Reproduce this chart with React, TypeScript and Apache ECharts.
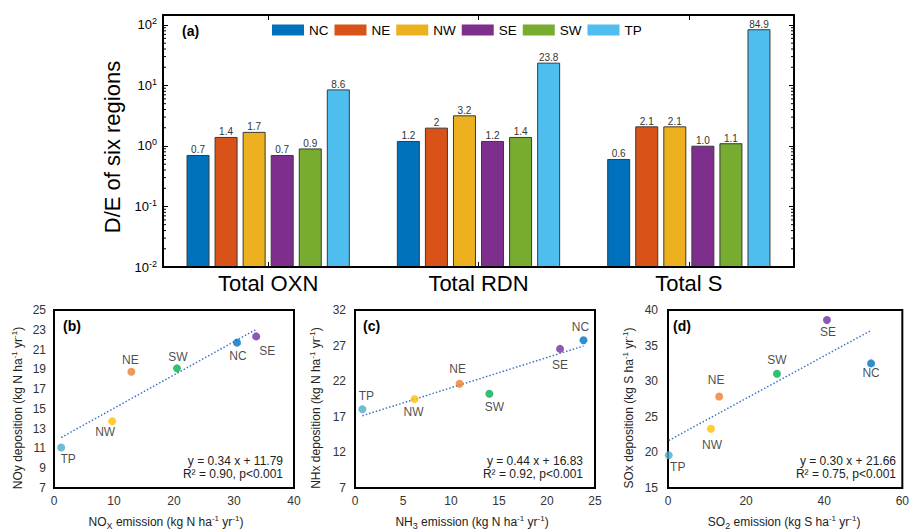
import React, { useEffect, useRef } from 'react';
import * as echarts from 'echarts';

const FONT = 'Liberation Sans, Arial, Helvetica, sans-serif';

// ---------- Panel (a): D/E ratios ----------
const regions = ['NC', 'NE', 'NW', 'SE', 'SW', 'TP'];
const barCategories = ['Total OXN', 'Total RDN', 'Total S'];

const ratioNC = [0.7, 1.2, 0.6];
const ratioNE = [1.4, 2, 2.1];
const ratioNW = [1.7, 3.2, 2.1];
const ratioSE = [0.7, 1.2, 1.0];
const ratioSW = [0.9, 1.4, 1.1];
const ratioTP = [8.6, 23.8, 84.9];

const ratioTextNC = ['0.7', '1.2', '0.6'];
const ratioTextNE = ['1.4', '2', '2.1'];
const ratioTextNW = ['1.7', '3.2', '2.1'];
const ratioTextSE = ['0.7', '1.2', '1.0'];
const ratioTextSW = ['0.9', '1.4', '1.1'];
const ratioTextTP = ['8.6', '23.8', '84.9'];

const logAxisMin = 0.01;
const logAxisMax = 146;

// ---------- Panels (b)-(d): order NC, NE, NW, SE, SW, TP ----------
const noxEmission = [30.5, 12.9, 9.7, 33.7, 20.5, 1.2];
const noyDeposition = [21.7, 18.75, 13.75, 22.33, 19.1, 11.1];

const nh3Emission = [23.8, 10.9, 6.2, 21.36, 14.0, 0.77];
const nhxDeposition = [27.76, 21.64, 19.48, 26.54, 20.23, 18.06];

const so2Emission = [52.0, 13.1, 11.0, 40.7, 27.9, 0.2];
const soxDeposition = [32.5, 27.85, 23.33, 38.6, 31.05, 19.6];

const equationB = ['y = 0.34 x + 11.79', 'R² = 0.90, p<0.001'];
const equationC = ['y = 0.44 x + 16.83', 'R² = 0.92, p<0.001'];
const equationD = ['y = 0.30 x + 21.66', 'R² = 0.75, p<0.001'];

// styles / layout (not data)
const barColors = ['#0072BD', '#D95319', '#EDB120', '#7E2F8E', '#77AC30', '#4DBEEE'];
const dotColors = ['#0070C0', '#ED7D31', '#FFC000', '#7030A0', '#00B050', '#4BACC6'];
const labelOffsetB = [[1, 13], [-1, -12], [-7, 11], [11, 15], [1, -11], [7, 12]];
const labelOffsetC = [[-3, -13], [-2, -15], [-1, 13], [0, 16], [5, 13], [4, -13]];
const labelOffsetD = [[0, 10], [-3, -17], [1, 16], [1, 12], [0, -14], [9, 12]];

const fitLine = (xs: number[], ys: number[]) => {
  const n = xs.length;
  const mx = xs.reduce((a, b) => a + b, 0) / n;
  const my = ys.reduce((a, b) => a + b, 0) / n;
  let sxx = 0;
  let sxy = 0;
  for (let i = 0; i < n; i++) {
    sxx += (xs[i] - mx) * (xs[i] - mx);
    sxy += (xs[i] - mx) * (ys[i] - my);
  }
  const slope = sxy / sxx;
  const icpt = my - slope * mx;
  const x0 = Math.min(...xs);
  const x1 = Math.max(...xs);
  return [
    [x0, icpt + slope * x0],
    [x1, icpt + slope * x1],
  ];
};

const richScripts = {
  sup: { fontSize: 8, lineHeight: 8, verticalAlign: 'top', fontFamily: FONT, color: '#222' },
  sub: { fontSize: 9, lineHeight: 10, verticalAlign: 'bottom', fontFamily: FONT, color: '#222' },
};

export default function App() {
  const ref = useRef<HTMLDivElement>(null);

  useEffect(() => {
    if (!ref.current) return;
    const chart = echarts.init(ref.current, undefined, { renderer: 'svg' });

    const ratios = [ratioNC, ratioNE, ratioNW, ratioSE, ratioSW, ratioTP];
    const ratioTexts = [ratioTextNC, ratioTextNE, ratioTextNW, ratioTextSE, ratioTextSW, ratioTextTP];

    const minorTickValues: number[] = [];
    for (let k = -2; k <= 2; k++) {
      for (let m = 2; m <= 9; m++) {
        const v = m * Math.pow(10, k);
        if (v < logAxisMax) minorTickValues.push(v);
      }
    }

    const panels = [
      {
        xs: noxEmission, ys: noyDeposition, eq: equationB, offsets: labelOffsetB, tag: '(b)',
        left: 54, right: 618, xMin: 0, xMax: 40, xInt: 10, yMin: 7, yMax: 25, yInt: 2,
        xName: 'NO{sub|X} emission (kg N ha{sup|-1} yr{sup|-1})',
        yName: 'NOy deposition (kg N ha{sup|-1} yr{sup|-1})',
        yGap: 28, yMargin: 8, xPad: 16, tagX: 63, eqX: 283,
      },
      {
        xs: nh3Emission, ys: nhxDeposition, eq: equationC, offsets: labelOffsetC, tag: '(c)',
        left: 355, right: 317, xMin: 0, xMax: 25, xInt: 5, yMin: 7, yMax: 32, yInt: 5,
        xName: 'NH{sub|3} emission (kg N ha{sup|-1} yr{sup|-1})',
        yName: 'NHx deposition (kg N ha{sup|-1} yr{sup|-1})',
        yGap: 31, yMargin: 9, xPad: 6, tagX: 363, eqX: 583,
      },
      {
        xs: so2Emission, ys: soxDeposition, eq: equationD, offsets: labelOffsetD, tag: '(d)',
        left: 668, right: 7, xMin: 0, xMax: 60, xInt: 20, yMin: 15, yMax: 40, yInt: 5,
        xName: 'SO{sub|2} emission (kg S ha{sup|-1} yr{sup|-1})',
        yName: 'SOx deposition (kg S ha{sup|-1} yr{sup|-1})',
        yGap: 31, yMargin: 10, xPad: 2, tagX: 673, eqX: 896,
      },
    ];

    const grids: any[] = [
      { left: 163, right: 118, top: 15, bottom: 265, containLabel: false },
    ];
    const xAxes: any[] = [
      {
        type: 'category', gridIndex: 0, position: 'bottom', data: barCategories, z: 5,
        axisLine: { show: true, lineStyle: { color: '#000', width: 2 } },
        axisTick: { show: true, inside: true, alignWithLabel: true, length: 5, lineStyle: { color: '#000' } },
        axisLabel: { fontSize: 22, color: '#000', margin: 5, fontFamily: FONT },
        splitLine: { show: false },
      },
      {
        type: 'category', gridIndex: 0, position: 'top', data: barCategories, z: 5,
        axisLine: { show: true, lineStyle: { color: '#000', width: 2 } },
        axisTick: { show: true, inside: true, alignWithLabel: true, length: 5, lineStyle: { color: '#000' } },
        axisLabel: { show: false },
        splitLine: { show: false },
      },
    ];
    const yAxes: any[] = [
      {
        type: 'log', logBase: 10, gridIndex: 0, position: 'left', min: logAxisMin, max: logAxisMax, z: 5,
        axisLine: { show: true, lineStyle: { color: '#000', width: 2 } },
        axisTick: { show: true, inside: true, length: 5, lineStyle: { color: '#000' } },
        splitLine: { show: false },
        axisLabel: {
          margin: 6, fontSize: 13, lineHeight: 16, color: '#000', fontFamily: FONT,
          formatter: (v: number) => {
            const lg = Math.log10(v);
            const e = Math.round(lg);
            if (Math.abs(lg - e) > 1e-6) return '';
            return '10{sup|' + e + '}';
          },
          rich: { sup: { fontSize: 9, lineHeight: 8, verticalAlign: 'top', color: '#000', fontFamily: FONT } },
        },
        name: 'D/E of six regions', nameLocation: 'middle', nameGap: 32,
        nameTextStyle: { fontSize: 22, color: '#000', fontFamily: FONT, padding: [0, 12, 0, 0] },
      },
      {
        type: 'log', logBase: 10, gridIndex: 0, position: 'right', min: logAxisMin, max: logAxisMax, z: 5,
        axisLine: { show: true, lineStyle: { color: '#000', width: 2 } },
        axisTick: { show: true, inside: true, length: 5, lineStyle: { color: '#000' } },
        splitLine: { show: false },
        axisLabel: { show: false },
      },
    ];

    const series: any[] = [];
    regions.forEach((r, i) => {
      // invisible base so that the bars rise from the bottom of the log axis
      series.push({
        name: 'base-' + r,
        type: 'bar',
        stack: 'stack-' + r,
        xAxisIndex: 0,
        yAxisIndex: 0,
        barWidth: 23,
        barGap: '22%',
        silent: true,
        itemStyle: { color: 'rgba(0,0,0,0)', borderWidth: 0 },
        label: { show: false },
        data: barCategories.map(() => logAxisMin),
      });
      series.push({
        name: r,
        type: 'bar',
        stack: 'stack-' + r,
        xAxisIndex: 0,
        yAxisIndex: 0,
        barWidth: 23,
        barGap: '22%',
        itemStyle: { color: barColors[i], borderColor: '#3a3a3a', borderWidth: 1 },
        label: {
          show: true, position: 'top', distance: 0, fontSize: 10, color: '#333', fontFamily: FONT,
          formatter: (p: any) => ratioTexts[i][p.dataIndex],
        },
        data: ratios[i],
      });
    });

    series.push({
      type: 'custom',
      xAxisIndex: 0,
      yAxisIndex: 0,
      silent: true,
      z: 6,
      data: minorTickValues.map((v) => [0, v]),
      encode: { x: 0, y: 1 },
      renderItem: (params: any, api: any) => {
        const y = api.coord([0, api.value(1)])[1];
        const cs = params.coordSys;
        const st = { stroke: '#000', lineWidth: 1 };
        return {
          type: 'group',
          children: [
            { type: 'line', shape: { x1: cs.x, y1: y, x2: cs.x + 3, y2: y }, style: st },
            { type: 'line', shape: { x1: cs.x + cs.width - 3, y1: y, x2: cs.x + cs.width, y2: y }, style: st },
          ],
        };
      },
    });

    const graphics: any[] = [
      {
        type: 'text', x: 182, y: 31,
        style: { text: '(a)', fontSize: 14, fontWeight: 'bold', fill: '#000', fontFamily: FONT, textVerticalAlign: 'middle' },
      },
    ];

    panels.forEach((p, k) => {
      const gi = k + 1; // grid index
      const ai = k + 2; // axis index (panel a uses two x and two y axes)
      grids.push({
        left: p.left, right: p.right, top: 310, bottom: 44,
        show: true, borderColor: '#000', borderWidth: 2, backgroundColor: 'transparent',
      });
      xAxes.push({
        type: 'value', gridIndex: gi, min: p.xMin, max: p.xMax, interval: p.xInt,
        axisLine: { show: false }, axisTick: { show: false }, splitLine: { show: false },
        axisLabel: { fontSize: 12, color: '#333', margin: 7, fontFamily: FONT },
        name: p.xName, nameLocation: 'middle', nameGap: 26,
        nameTextStyle: { fontSize: 12, lineHeight: 16, color: '#222', fontFamily: FONT, padding: [0, p.xPad, 0, 0], rich: richScripts },
      });
      yAxes.push({
        type: 'value', gridIndex: gi, min: p.yMin, max: p.yMax, interval: p.yInt,
        axisLine: { show: false }, axisTick: { show: false }, splitLine: { show: false },
        axisLabel: { fontSize: 12, color: '#333', margin: p.yMargin, fontFamily: FONT },
        name: p.yName, nameLocation: 'middle', nameGap: p.yGap,
        nameTextStyle: { fontSize: 12, lineHeight: 16, color: '#222', fontFamily: FONT, padding: [0, 18, 0, 0], rich: richScripts },
      });
      series.push({
        type: 'line',
        xAxisIndex: ai,
        yAxisIndex: ai,
        silent: true,
        symbol: 'none',
        z: 1,
        lineStyle: { color: '#4472C4', width: 1.5, type: [1.5, 2] },
        data: fitLine(p.xs, p.ys),
      });
      series.push({
        type: 'scatter',
        xAxisIndex: ai,
        yAxisIndex: ai,
        symbolSize: 8,
        z: 3,
        data: p.xs.map((x, i) => ({
          name: regions[i],
          value: [x, p.ys[i]],
          itemStyle: { color: dotColors[i] },
          label: { offset: p.offsets[i] },
        })),
        label: {
          show: true, position: 'inside', formatter: '{b}', fontSize: 12, color: '#1a1a1a', fontFamily: FONT,
          textBorderWidth: 0, textBorderColor: 'transparent',
        },
      });
      graphics.push({
        type: 'text', x: p.tagX, y: 326,
        style: { text: p.tag, fontSize: 14, fontWeight: 'bold', fill: '#000', fontFamily: FONT, textVerticalAlign: 'middle' },
      });
      graphics.push({
        type: 'text', x: p.eqX, y: 461,
        style: { text: p.eq[0], fontSize: 12, fill: '#222', fontFamily: FONT, textAlign: 'right', textVerticalAlign: 'middle' },
      });
      graphics.push({
        type: 'text', x: p.eqX, y: 474,
        style: { text: p.eq[1], fontSize: 12, fill: '#222', fontFamily: FONT, textAlign: 'right', textVerticalAlign: 'middle' },
      });
    });

    chart.setOption({
      animation: false,
      backgroundColor: '#fff',
      textStyle: { fontFamily: FONT },
      legend: {
        data: regions,
        left: 272,
        top: 23,
        padding: 0,
        itemWidth: 32,
        itemHeight: 11,
        itemGap: 6,
        icon: 'rect',
        itemStyle: { borderWidth: 0 },
        textStyle: { fontSize: 13.5, color: '#000', fontFamily: FONT },
      },
      grid: grids,
      xAxis: xAxes,
      yAxis: yAxes,
      series,
      graphic: graphics,
    });

    return () => chart.dispose();
  }, []);

  return <div ref={ref} style={{ position: 'absolute', left: 0, top: 0, width: 912, height: 532 }} />;
}
